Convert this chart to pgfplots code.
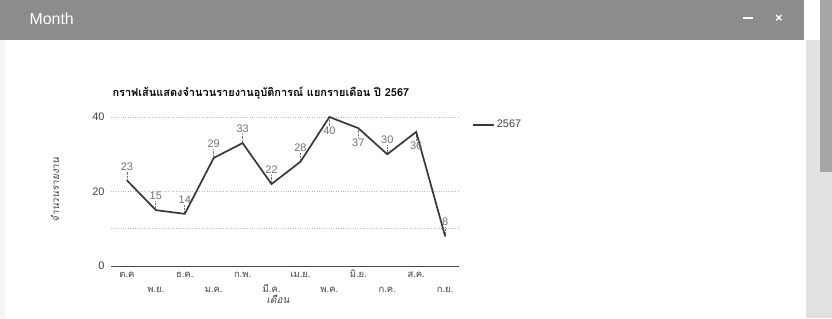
\documentclass[border=0pt]{standalone}
\usepackage{fontspec}
\setmainfont{Liberation Sans}
\newfontfamily\thai[Script=Thai]{Loma}
\usepackage{pgfplots}
\pgfplotsset{compat=1.18}
\definecolor{hdr}{HTML}{8C8C8C}
\definecolor{track}{HTML}{E2E2E2}
\definecolor{thumb}{HTML}{A6A6A6}
\definecolor{lbl}{HTML}{737373}
\definecolor{tickc}{HTML}{444444}
\definecolor{gridc}{HTML}{BBBBBB}
\pgfplotstableread{
x y e
0 23 2.5
1 15 2.5
2 14 2.5
3 29 2.5
4 33 2.5
5 22 2.5
6 28 2.5
7 40 2.5
8 37 2.5
9 30 2.5
10 36 2.5
11 8 2.5
}\datamain
\pgfplotstableread{
x y e
0 23 2.5
1 15 2.5
2 14 2.5
3 29 2.5
4 33 2.5
5 22 2.5
6 28 2.5
9 30 2.5
11 8 2.5
}\dataabove
\pgfplotstableread{
x y e
7 40 2.5
8 37 2.5
10 36 2.5
}\databelow
\begin{document}
\begin{tikzpicture}[x=1bp,y=1bp]
\useasboundingbox (0,0) rectangle (832,318);
% window background
\fill[white] (0,0) rectangle (832,318);
\fill[black!4] (0,0) rectangle (5,278);
\fill[track] (806,0) rectangle (832,278);
\fill[thumb] (820,146) rectangle (832,318);
\fill[hdr] (0,278) rectangle (804,318);
\node[white, anchor=west, font=\fontsize{16}{18}\selectfont] at (26,299) {Month};
\draw[white, line width=1.6bp] (743,300) -- (753,300);
\node[white, font=\bfseries\fontsize{13}{14}\selectfont] at (779,299.5) {×};
\begin{axis}[
  at={(111bp,52bp)}, anchor=south west,
  scale only axis, width=348bp, height=149bp,
  xmin=-0.55, xmax=11.48, ymin=0, ymax=40,
  clip=false,
  axis line style={draw=none},
  tick style={draw=none},
  /pgf/number format/assume math mode=true,
  ytick={0,10,20,40}, yticklabels={0,,20,40},
  ymajorgrids, major grid style={gridc, dotted, line width=0.8bp},
  extra y ticks={0}, extra y tick labels={},
  extra y tick style={grid=major, major grid style={solid, black!70, line width=0.9bp}},
  yticklabel style={font=\fontsize{11}{12}\selectfont, text=tickc, xshift=-3bp},
  xtick={0,2,4,6,8,10},
  xticklabels={{ต.ค},{ธ.ค.},{ก.พ.},{เม.ย.},{มิ.ย.},{ส.ค.}},
  extra x ticks={1,3,5,7,9,11},
  extra x tick labels={{พ.ย.},{ม.ค.},{มี.ค.},{พ.ค.},{ก.ค.},{ก.ย.}},
  extra x tick style={xmajorgrids=false, xticklabel style={yshift=-15bp}},
  xticklabel style={font=\thai\fontsize{9.5}{10}\selectfont, text=tickc, anchor=north, inner sep=0pt, text height=7bp, text depth=3bp, yshift=-4bp},
  xlabel={\thai\itshape เดือน},
  x label style={at={(axis description cs:0.48,0)}, anchor=north, yshift=-26bp, font=\fontsize{10}{11}\selectfont, text=tickc},
  ylabel={\thai\itshape จำนวนรายงาน},
  y label style={at={(axis description cs:-0.161,0.51)}, anchor=center, font=\fontsize{10}{11}\selectfont, text=tickc},
  title={\thai\bfseries กราฟเส้นแสดงจำนวนรายงานอุบัติการณ์ แยกรายเดือน ปี 2567},
  title style={at={(axis description cs:0,1)}, anchor=west, yshift=18bp, xshift=-2bp, font=\fontsize{11}{12}\selectfont},
  legend style={at={(axis description cs:1,1)}, anchor=north west, xshift=10bp, yshift=1bp, draw=none, fill=none, font=\fontsize{11}{12}\selectfont, text=tickc},
  legend image code/.code={\draw[#1] (0bp,0bp) -- (21bp,0bp);},
]
\addplot[draw=none, mark=none, forget plot,
  error bars/.cd, y dir=plus, y explicit, error mark=none,
  error bar style={draw=lbl, densely dotted, line width=0.7bp}]
  table[x=x, y=y, y error=e] {\dataabove};
\addplot[draw=none, mark=none, forget plot,
  error bars/.cd, y dir=minus, y explicit, error mark=none,
  error bar style={draw=lbl, densely dotted, line width=0.7bp}]
  table[x=x, y=y, y error=e] {\databelow};
\addplot[draw=none, mark=none, forget plot, nodes near coords, point meta=explicit,
  every node near coord/.append style={anchor=south, yshift=9bp, inner sep=1bp, text=lbl, font=\fontsize{11}{12}\selectfont}]
  table[x=x, y=y, meta=y] {\dataabove};
\addplot[draw=none, mark=none, forget plot, nodes near coords, point meta=explicit,
  every node near coord/.append style={anchor=north, yshift=-9bp, inner sep=1bp, text=lbl, font=\fontsize{11}{12}\selectfont}]
  table[x=x, y=y, meta=y] {\databelow};
\addplot[color=black!78, line width=1.7bp, mark=none] table[x=x, y=y] {\datamain};
\addlegendentry{2567}
\end{axis}
\end{tikzpicture}
\end{document}
